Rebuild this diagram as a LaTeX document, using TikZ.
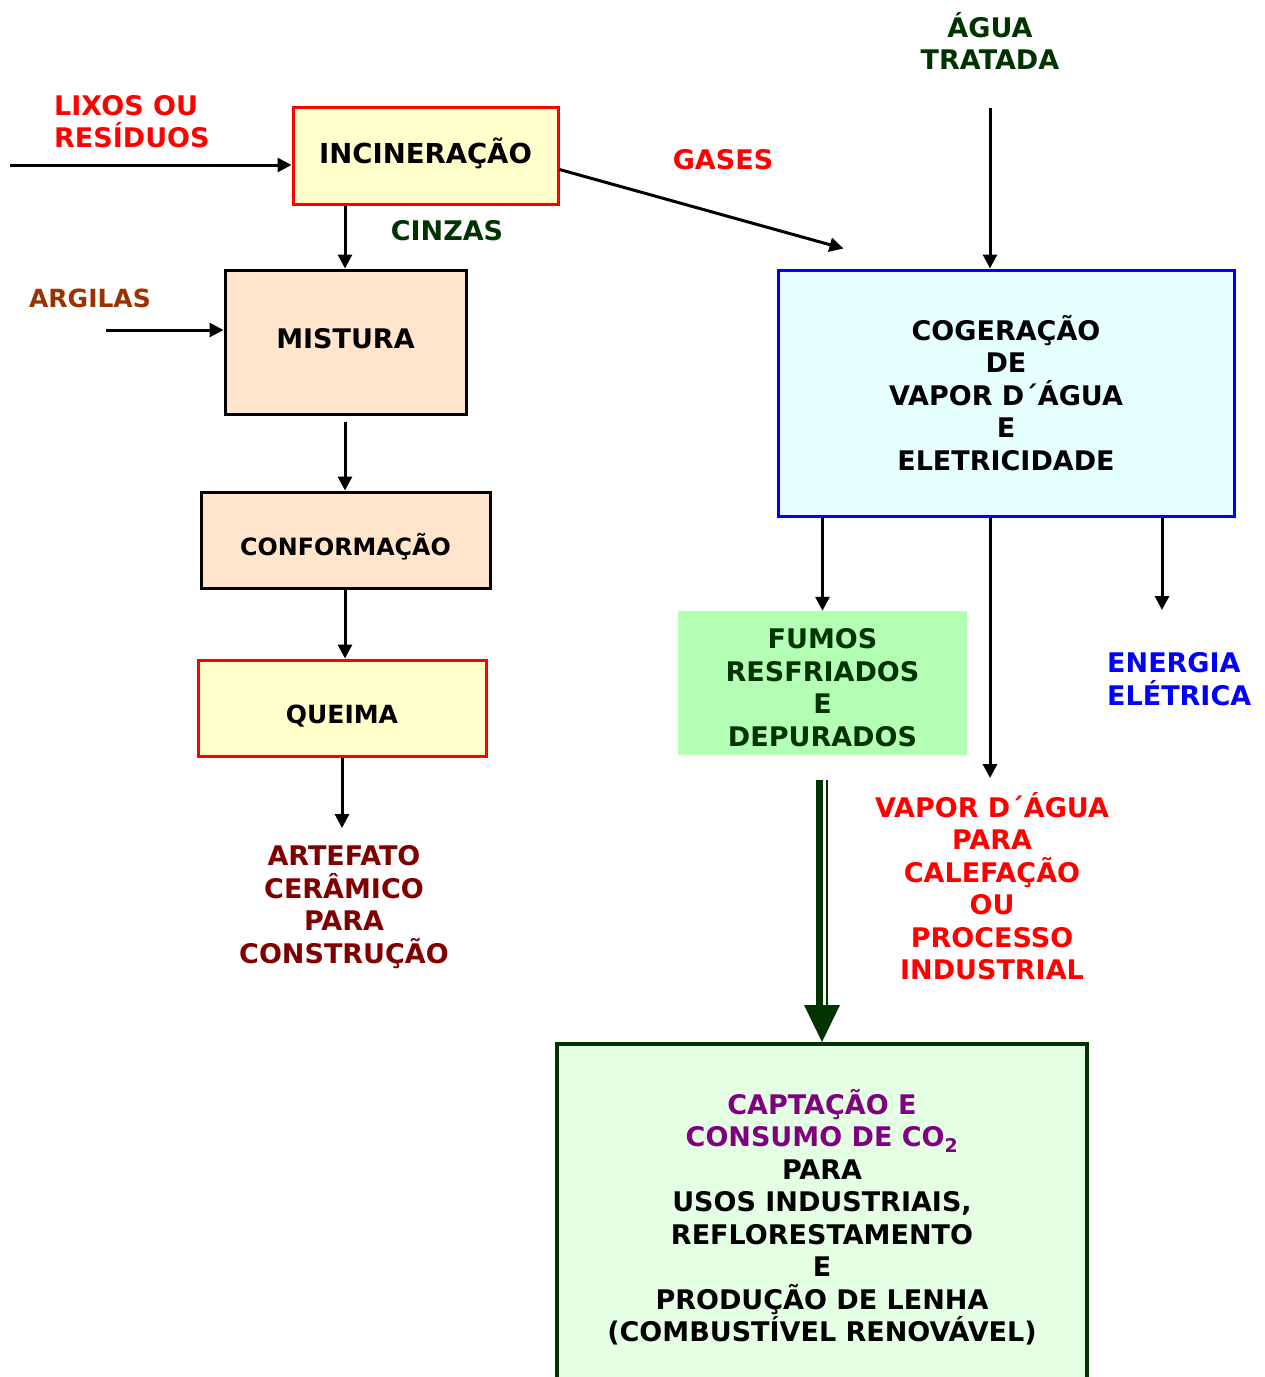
\documentclass[tikz,border=0pt]{standalone}
\usepackage{fontspec}
\setmainfont{DejaVu Sans}
\usetikzlibrary{arrows.meta,calc}
\definecolor{cred}{HTML}{FF0000}
\definecolor{cdg}{HTML}{003300}
\definecolor{cbrown}{HTML}{993300}
\definecolor{cdred}{HTML}{800000}
\definecolor{cblue}{HTML}{0000FF}
\definecolor{cpurple}{HTML}{800080}
\definecolor{fyellow}{HTML}{FFFFCC}
\definecolor{fpeach}{HTML}{FFE5CC}
\definecolor{fcyan}{HTML}{E5FFFF}
\definecolor{fgreen}{HTML}{B3FFB3}
\definecolor{fpale}{HTML}{E5FFE5}
\newcommand\shiftdown[2]{\raisebox{-#1}[\height][\depth]{#2}}
\tikzset{
  txt/.style={font=\bfseries\fontsize{27}{32.5}\selectfont, inner sep=0pt, align=center},
  smalltxt/.style={font=\bfseries\fontsize{25}{32.5}\selectfont, inner sep=0pt, align=center},
  boxbase/.style={txt, line width=3pt},
  arr/.style={line width=3pt, -{Triangle[width=14pt,length=14pt]}},
}
\begin{document}
\begin{tikzpicture}[x=1pt,y=-1pt]
\useasboundingbox (0,0) rectangle (1265,1377);
\clip (0,0) rectangle (1265,1377);
% left column boxes
\node[boxbase, draw=cred, fill=fyellow, minimum width=265, minimum height=97, font=\bfseries\fontsize{27.5}{32.5}\selectfont] (inc) at (425.5,155.5) {\shiftdown{-2pt}{INCINERAÇÃO}};
\node[boxbase, draw=black, fill=fpeach, minimum width=241, minimum height=144] (mis) at (345.5,342) {\shiftdown{-3pt}{MISTURA}};
\node[boxbase, draw=black, fill=fpeach, minimum width=289, minimum height=96, font=\bfseries\fontsize{23.8}{30}\selectfont] (con) at (345.5,540) {\shiftdown{7pt}{CONFORMAÇÃO}};
\node[boxbase, draw=cred, fill=fyellow, minimum width=288, minimum height=96, font=\bfseries\fontsize{25}{30}\selectfont] (que) at (342,708) {\shiftdown{8pt}{QUEIMA}};
% labels left
\node[txt, text=cred, align=left, anchor=west] (lix) at (54,121.5) {LIXOS OU\\RESÍDUOS};
\coordinate (lixs) at (10,165);
\node[txt, text=cdg] (cin) at (447,231) {CINZAS};
\node[smalltxt, text=cbrown] (arg) at (90,298) {ARGILAS};
\coordinate (args) at (106,330);
\node[txt, text=cdred] (art) at (344,907) {ARTEFATO\\CERÂMICO\\PARA\\CONSTRUÇÃO};
% right column
\node[txt, text=cred] (gas) at (723,160) {GASES};
\node[txt, text=cdg] (agu) at (990,41) {ÁGUA\\TRATADA};
\coordinate (agus) at (990,108);
\node[boxbase, draw=cblue, fill=fcyan, minimum width=456, minimum height=246] (cog) at (1006,393) {COGERAÇÃO\\DE\\VAPOR D´ÁGUA\\E\\ELETRICIDADE};
\node[txt, text=cdg, fill=fgreen, minimum width=289, minimum height=144] (fum) at (822.5,683) {\shiftdown{8pt}{\begin{tabular}{@{}c@{}}FUMOS\\RESFRIADOS\\E\\DEPURADOS\end{tabular}}};
\node[txt, text=cblue, align=left, anchor=west] (ene) at (1107,679) {ENERGIA\\ELÉTRICA};
\node[txt, text=cred] (vap) at (992,886) {VAPOR D´ÁGUA\\PARA\\CALEFAÇÃO\\OU\\PROCESSO\\INDUSTRIAL};
\node[txt, draw=cdg, line width=4pt, fill=fpale, minimum width=530, minimum height=346] (cap) at (822,1217) {\textcolor{cpurple}{CAPTAÇÃO E}\\\textcolor{cpurple}{CONSUMO DE CO\textsubscript{2}}\\PARA\\USOS INDUSTRIAIS,\\REFLORESTAMENTO\\E\\PRODUÇÃO DE LENHA\\(COMBUSTÍVEL RENOVÁVEL)};
\coordinate (dst) at (822,780);
\coordinate (artin) at (342,828);
% connectors
\draw[arr] (lixs) -- (lixs -| inc.west);
\draw[arr] (inc.south -| 345,0) -- (mis.north -| 345,0);
\draw[arr] (args) -- (args -| mis.west);
\draw[arr] ([yshift=-6pt]mis.south -| 345,0) -- (con.north -| 345,0);
\draw[arr] (con.south -| 345,0) -- (que.north -| 345,0);
\draw[arr] (que.south) -- (artin);
\draw[arr] ([yshift=-14pt]inc.east) -- ($(cog.north west)+(67,-20)$);
\draw[arr] (agus) -- (agus |- cog.north);
\draw[arr] (cog.south -| fum.north) -- (fum.north);
\draw[arr] (cog.south -| 990,0) -- (990,778);
\draw[arr] (cog.south -| 1162,0) -- (1162,610);
% double arrow
\draw[cdg, line width=7pt] ([xshift=-3pt]dst) -- ([xshift=-3pt,yshift=36pt]cap.north);
\draw[cdg, line width=2.5pt] ([xshift=5pt]dst) -- ([xshift=5pt,yshift=36pt]cap.north);
\fill[cdg] ([xshift=-18pt,yshift=37pt]cap.north) -- ([xshift=18pt,yshift=37pt]cap.north) -- (cap.north) -- cycle;
\end{tikzpicture}
\end{document}
